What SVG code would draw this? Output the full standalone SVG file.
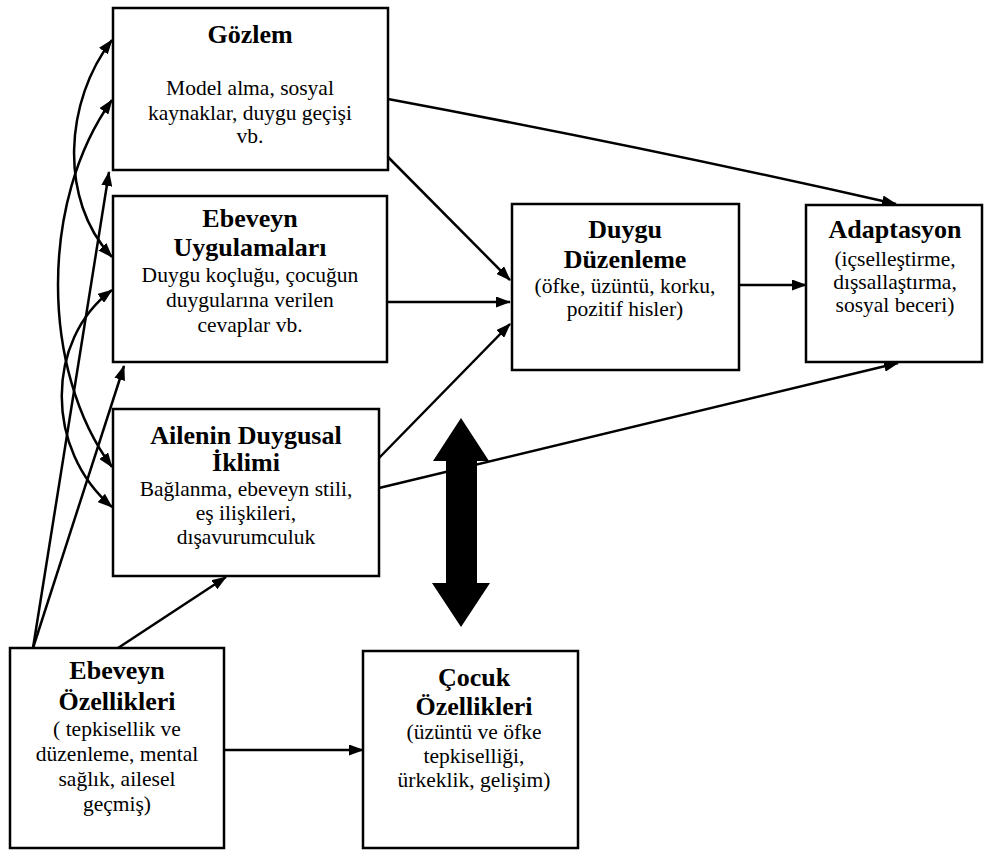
<svg xmlns="http://www.w3.org/2000/svg" width="985" height="850" viewBox="0 0 985 850">
<style>
.box{fill:#fff;stroke:#000;stroke-width:2.5}
.t{font-family:"Liberation Serif","Times New Roman",serif;font-size:26px;font-weight:bold;text-anchor:middle;fill:#000}
.b{font-family:"Liberation Serif","Times New Roman",serif;font-size:21.5px;text-anchor:middle;fill:#000}
.c{fill:none;stroke:#000;stroke-width:2.5;marker-end:url(#ah)}
.d{marker-start:url(#ah)}
</style>
<defs>
<marker id="ah" viewBox="0 0 15 11" refX="14" refY="5.5" markerWidth="15" markerHeight="11" orient="auto-start-reverse" markerUnits="userSpaceOnUse"><path d="M0,0 L15,5.5 L0,11 z" fill="#000"/></marker>
</defs>
<rect width="985" height="850" fill="#fff"/>
<g id="connectors">
<path class="c" d="M388,99 Q650,148 896,204"/>
<path class="c" d="M388,157 L510,280"/>
<path class="c" d="M387,302 L510,302"/>
<path class="c" d="M379,458 L510,324"/>
<path class="c" d="M379,488 L898,363"/>
<path class="c" d="M739,285 L806,285"/>
<path class="c" d="M224,750 L363,750"/>
<path class="c" d="M118,648 L226,577"/>
<path class="c" d="M33,648 L124,366"/>
<path class="c" d="M33,648 L109,172"/>
<path class="c d" d="M112,40 C65,100 58,200 112,257"/>
<path class="c d" d="M112,100 C40,200 40,370 112,467"/>
<path class="c d" d="M112,290 C45,340 45,450 112,507"/>
<polygon id="bidirectional" points="461,418 489,461 477,461 477,583 490,583 461,627 432,583 446,583 446,461 433,461" fill="#000"/>
</g>
<g id="gozlem">
<rect class="box" x="113" y="8" width="275" height="162"/>
<text class="t" x="250" y="43">Gözlem</text>
<text class="b" x="250" y="95">Model alma, sosyal</text>
<text class="b" x="250" y="120">kaynaklar, duygu geçişi</text>
<text class="b" x="250" y="143">vb.</text>
</g>
<g id="ebeveyn-uygulamalari">
<rect class="box" x="113" y="196" width="274" height="166"/>
<text class="t" x="250" y="227">Ebeveyn</text>
<text class="t" x="250" y="256">Uygulamaları</text>
<text class="b" x="250" y="282">Duygu koçluğu, çocuğun</text>
<text class="b" x="250" y="307">duygularına verilen</text>
<text class="b" x="250" y="332">cevaplar vb.</text>
</g>
<g id="ailenin-duygusal-iklimi">
<rect class="box" x="113" y="409" width="266" height="167"/>
<text class="t" x="246" y="444">Ailenin Duygusal</text>
<text class="t" x="246" y="471">İklimi</text>
<text class="b" x="246" y="496">Bağlanma,  ebeveyn stili,</text>
<text class="b" x="246" y="520">eş ilişkileri,</text>
<text class="b" x="246" y="544">dışavurumculuk</text>
</g>
<g id="duygu-duzenleme">
<rect class="box" x="512" y="204" width="227" height="166"/>
<text class="t" x="625" y="238">Duygu</text>
<text class="t" x="625" y="268">Düzenleme</text>
<text class="b" x="625" y="293">(öfke, üzüntü, korku,</text>
<text class="b" x="625" y="316">pozitif hisler)</text>
</g>
<g id="adaptasyon">
<rect class="box" x="806" y="205" width="176" height="157"/>
<text class="t" x="895" y="238">Adaptasyon</text>
<text class="b" x="895" y="266">(içselleştirme,</text>
<text class="b" x="895" y="289">dışsallaştırma,</text>
<text class="b" x="895" y="312">sosyal beceri)</text>
</g>
<g id="ebeveyn-ozellikleri">
<rect class="box" x="10" y="648" width="214" height="200"/>
<text class="t" x="117" y="679">Ebeveyn</text>
<text class="t" x="117" y="710">Özellikleri</text>
<text class="b" x="117" y="736">( tepkisellik ve</text>
<text class="b" x="117" y="761">düzenleme, mental</text>
<text class="b" x="117" y="786">sağlık, ailesel</text>
<text class="b" x="117" y="811">geçmiş)</text>
</g>
<g id="cocuk-ozellikleri">
<rect class="box" x="363" y="651" width="215" height="197"/>
<text class="t" x="474" y="686">Çocuk</text>
<text class="t" x="474" y="715">Özellikleri</text>
<text class="b" x="474" y="739">(üzüntü ve öfke</text>
<text class="b" x="474" y="763">tepkiselliği,</text>
<text class="b" x="474" y="787">ürkeklik, gelişim)</text>
</g>
</svg>
